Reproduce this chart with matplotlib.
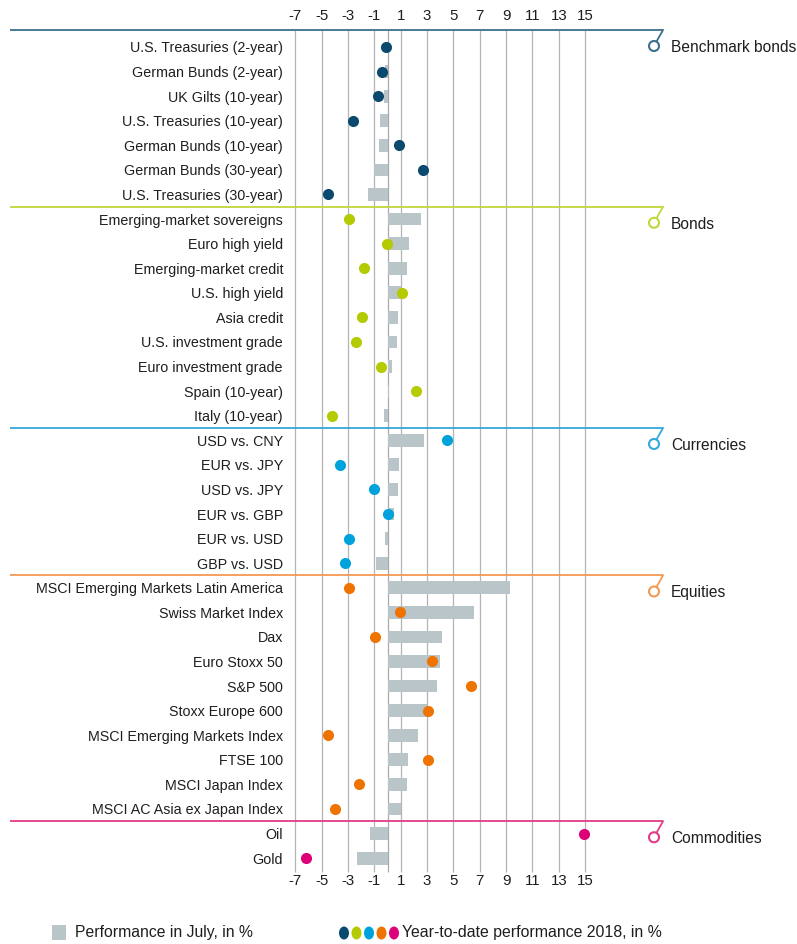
import matplotlib
matplotlib.use("Agg")
import matplotlib.pyplot as plt
from matplotlib.patches import Rectangle, Ellipse
import numpy as np

plt.rcParams['font.family'] = ['Liberation Sans', 'DejaVu Sans']

# ---------------- data ----------------
sections = ["Benchmark bonds", "Bonds", "Currencies", "Equities", "Commodities"]
section_colors = ["#0b4a6e", "#b3cb00", "#00a2dc", "#ef7300", "#dd0077"]
line_colors = ["#3d6f8e", "#c2d63a", "#33a9dc", "#f39a55", "#df3d88"]

benchmark_labels = ["U.S. Treasuries (2-year)", "German Bunds (2-year)", "UK Gilts (10-year)",
                    "U.S. Treasuries (10-year)", "German Bunds (10-year)", "German Bunds (30-year)",
                    "U.S. Treasuries (30-year)"]
benchmark_july = [0.0, -0.2, -0.3, -0.6, -0.65, -1.0, -1.5]
benchmark_ytd = [-0.1, -0.4, -0.7, -2.65, 0.85, 2.7, -4.55]

bonds_labels = ["Emerging-market sovereigns", "Euro high yield", "Emerging-market credit",
                "U.S. high yield", "Asia credit", "U.S. investment grade",
                "Euro investment grade", "Spain (10-year)", "Italy (10-year)"]
bonds_july = [2.55, 1.6, 1.5, 1.0, 0.8, 0.72, 0.32, 0.1, -0.3]
bonds_ytd = [-2.95, -0.05, -1.8, 1.1, -1.95, -2.4, -0.5, 2.2, -4.25]

currencies_labels = ["USD vs. CNY", "EUR vs. JPY", "USD vs. JPY", "EUR vs. GBP",
                     "EUR vs. USD", "GBP vs. USD"]
currencies_july = [2.75, 0.9, 0.8, 0.5, -0.2, -0.85]
currencies_ytd = [4.5, -3.6, -1.0, 0.0, -2.9, -3.2]

equities_labels = ["MSCI Emerging Markets Latin America", "Swiss Market Index", "Dax",
                   "Euro Stoxx 50", "S&P 500", "Stoxx Europe 600",
                   "MSCI Emerging Markets Index", "FTSE 100", "MSCI Japan Index",
                   "MSCI AC Asia ex Japan Index"]
equities_july = [9.3, 6.6, 4.15, 4.0, 3.75, 3.0, 2.3, 1.55, 1.5, 1.0]
equities_ytd = [-2.9, 0.95, -0.95, 3.35, 6.35, 3.1, -4.55, 3.1, -2.2, -3.95]

commodities_labels = ["Oil", "Gold"]
commodities_july = [-1.3, -2.3]
commodities_ytd = [14.95, -6.2]

tick_values = [-7, -5, -3, -1, 1, 3, 5, 7, 9, 11, 13, 15]

groups = [
    (benchmark_labels, benchmark_july, benchmark_ytd),
    (bonds_labels, bonds_july, bonds_ytd),
    (currencies_labels, currencies_july, currencies_ytd),
    (equities_labels, equities_july, equities_ytd),
    (commodities_labels, commodities_july, commodities_ytd),
]

# ---------------- layout ----------------
W, H = 797, 944
fig = plt.figure(figsize=(W / 100, H / 100), dpi=100)
ax = fig.add_axes([0, 0, 1, 1])

X0PX, XSCALE = 387.5, 13.17     # pixel of value 0, pixels per unit
Y0PX, YSCALE = 47.0, 24.58      # pixel of first row, pixels per row


def px2x(px):
    return (px - X0PX) / XSCALE


def px2y(py):
    return (py - Y0PX) / YSCALE


ax.set_xlim(px2x(0), px2x(W))
ax.set_ylim(px2y(H), px2y(0))
ax.axis("off")

grid_top = px2y(30)
grid_bot = px2y(872)
bar_color = "#b9c5c9"
text_color = "#1e1e1e"
toff = 1.5 / YSCALE

# grid lines
for v in tick_values + [0]:
    ax.plot([v, v], [grid_top, grid_bot], color="#b4b4b4" if v != 0 else "#a8a8a8",
            lw=0.9, zorder=1, solid_capstyle="butt")

# tick labels top & bottom
for v in tick_values:
    ax.text(v, px2y(16), f"{v}", ha="center", va="center", fontsize=10.8, color=text_color)
    ax.text(v, px2y(881), f"{v}", ha="center", va="center", fontsize=10.8, color=text_color)

row = 0
label_x = px2x(283)
for gi, (labels, july, ytd) in enumerate(groups):
    n = len(labels)
    ys = np.arange(row, row + n)
    # section separator line
    ly = grid_top if gi == 0 else row - 0.5
    lc = line_colors[gi]
    xl, xr = px2x(10), px2x(663)
    ax.plot([xl, xr], [ly, ly], color=lc, lw=1.3, zorder=2, solid_capstyle="butt")
    cx, cy = px2x(654), ly + 16 / YSCALE
    ax.plot([xr, cx], [ly, cy], color=lc, lw=1.3, zorder=2)
    ax.add_patch(Ellipse((cx, cy), 10 / XSCALE, 10 / YSCALE, facecolor="white",
                         edgecolor=lc, lw=1.5, zorder=3))
    ax.text(px2x(671), cy + toff, sections[gi], ha="left", va="center", fontsize=11.2,
            color=text_color)
    # bars
    ax.barh(ys, july, height=0.52, left=0, color=bar_color, zorder=3, linewidth=0)
    # dots
    ax.scatter(ytd, ys, s=64, color=section_colors[gi], zorder=4, linewidths=0)
    for y, lab in zip(ys, labels):
        ax.text(label_x, y + toff, lab, ha="right", va="center", fontsize=10.3,
                color=text_color)
    row += n

# ---------------- legend ----------------
def fx(px):
    return px / W


def fy(py):
    return 1 - py / H


fig.patches.append(Rectangle((fx(52), fy(940)), 14 / W, 15 / H, transform=fig.transFigure,
                             facecolor=bar_color, edgecolor="none"))
fig.text(fx(75), fy(933), "Performance in July, in %", ha="left", va="center",
         fontsize=11.3, color=text_color)
for i, c in enumerate(section_colors):
    fig.patches.append(Ellipse((fx(344 + i * 12.5), fy(933)), 10 / W, 13 / H,
                               transform=fig.transFigure, facecolor=c, edgecolor="none"))
fig.text(fx(402), fy(933), "Year-to-date performance 2018, in %", ha="left", va="center",
         fontsize=11.4, color=text_color)

fig.savefig("out.png", dpi=100, facecolor="white")
